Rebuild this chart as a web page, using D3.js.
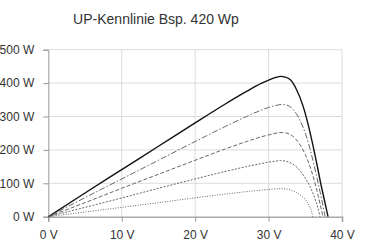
<!DOCTYPE html>
<html>
<head>
<meta charset="utf-8">
<script src="https://cdn.jsdelivr.net/npm/d3@7"></script>
<style>
  body { margin: 0; background: #fff; }
  svg { display: block; font-family: "Liberation Sans", Arial, sans-serif; }
</style>
</head>
<body>
<div id="chart"></div>
<script>
// values, [volt, watt]
let xTicks = [0, 10, 20, 30, 40];
let yTicks = [0, 100, 200, 300, 400, 500];

let curve100 = [[0,0],[5,71],[10,141],[15,211],[20,281],[24,336],[27,375],[29,399],[30,409],[31,417],[31.6,420],[32.3,418],[33,409],[33.8,381],[34.7,331],[35.4,275],[36,218],[36.6,155],[37.1,100],[37.6,50],[38.1,0]];
let curve80 = [[0,0],[5,57],[10,113],[15,169],[20,225],[24,269],[27,300],[29,319],[30,327],[31,333],[31.8,336],[32.5,334],[33.3,322],[34.2,292],[35,250],[35.8,190],[36.6,115],[37.2,55],[37.7,0]];
let curve60 = [[0,0],[5,42],[10,85],[15,127],[20,169],[24,202],[27,225],[29,239],[30,245],[31,250],[31.7,252],[32.5,250],[33.3,241],[34.2,218],[35,186],[35.8,140],[36.5,85],[37,40],[37.4,0]];
let curve40 = [[0,0],[5,28],[10,56],[15,85],[20,113],[24,135],[27,150],[29,159],[30,163.5],[31,166.5],[31.6,168],[32.4,166],[33.2,159],[34,145],[34.8,122],[35.6,92],[36.3,55],[36.7,28],[37,0]];
let curve20 = [[0,0],[5,14],[10,28],[15,42],[20,56.5],[24,67.5],[27,75],[29,79.5],[30,81.5],[31,83.2],[31.6,84],[32.3,83],[33,80],[33.8,72],[34.6,60],[35.2,46],[35.6,30],[35.9,13],[36,0]];

let series = [
  { data: curve100, dash: null, width: 1.4, color: "#111" },
  { data: curve80, dash: "6,2,1.5,2", width: 0.9, color: "#555" },
  { data: curve60, dash: "4,2", width: 0.9, color: "#555" },
  { data: curve40, dash: "2,1.5", width: 0.9, color: "#555" },
  { data: curve20, dash: "1,1.5", width: 0.9, color: "#555" }
];

let width = 369, height = 241;
let svg = d3.select("#chart").append("svg")
  .attr("width", width)
  .attr("height", height);

let x = d3.scaleLinear().domain([0, 40]).range([48.3, 342]);
let y = d3.scaleLinear().domain([0, 500]).range([216.7, 49.7]);

// grid
svg.append("g").selectAll("line.v")
  .data(xTicks.slice(1))
  .enter().append("line")
  .attr("x1", d => x(d)).attr("x2", d => x(d))
  .attr("y1", y(0)).attr("y2", y(500))
  .attr("stroke", "#dcdcdc").attr("stroke-width", 1);

svg.append("g").selectAll("line.h")
  .data(yTicks.slice(1))
  .enter().append("line")
  .attr("x1", x(0)).attr("x2", x(40))
  .attr("y1", d => y(d)).attr("y2", d => y(d))
  .attr("stroke", "#dcdcdc").attr("stroke-width", 1);

// axes
let yAxis = svg.append("g")
  .attr("transform", "translate(" + x(0) + ",0)")
  .call(d3.axisLeft(y).tickValues(yTicks).tickSize(5).tickPadding(9).tickFormat(d => d + " W"));
let xAxis = svg.append("g")
  .attr("transform", "translate(0," + y(0) + ")")
  .call(d3.axisBottom(x).tickValues(xTicks).tickSize(5).tickPadding(9).tickFormat(d => d + " V"));

[yAxis, xAxis].forEach(a => {
  a.select(".domain").attr("stroke", "#999");
  a.selectAll(".tick line").attr("stroke", "#999");
  a.selectAll("text").attr("fill", "#333").style("font-size", "12px")
    .style("font-family", "'Liberation Sans', Arial, sans-serif");
});
xAxis.select(".domain").attr("stroke-width", 1.6).attr("stroke", "#aaa");

// curves
let line = d3.line()
  .x(d => x(d[0]))
  .y(d => y(d[1]))
  .curve(d3.curveMonotoneX);

svg.append("g").selectAll("path")
  .data(series)
  .enter().append("path")
  .attr("d", d => line(d.data))
  .attr("fill", "none")
  .attr("stroke", d => d.color)
  .attr("stroke-width", d => d.width)
  .attr("stroke-dasharray", d => d.dash);

// title
svg.append("text")
  .attr("x", 156)
  .attr("y", 24)
  .attr("text-anchor", "middle")
  .attr("fill", "#333")
  .style("font-size", "14px")
  .text("UP-Kennlinie Bsp. 420 Wp");
</script>
</body>
</html>
